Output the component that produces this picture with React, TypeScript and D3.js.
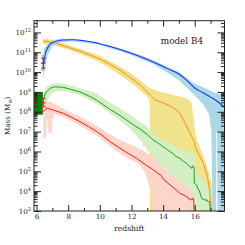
import { useEffect, useRef } from 'react';
import * as d3 from 'd3';

// all masses stored as log10(M / Msun), redshift first
// [z, log M]
const haloLine: [number, number][] = [
  [6.46, 10.45], [6.5, 10.7], [6.55, 10.92], [6.62, 11.1], [6.7, 11.22], [6.85, 11.4],
  [7.0, 11.48], [7.3, 11.57], [7.7, 11.62], [8.3, 11.63], [9.0, 11.58], [9.8, 11.47],
  [10.6, 11.3], [11.7, 11.03], [12.5, 10.8], [13.4, 10.5], [14.2, 10.2], [15.0, 9.9],
  [15.5, 9.58], [16.0, 9.2], [16.5, 8.97], [17.0, 8.74], [17.5, 8.48], [17.9, 8.2],
];
// [z, lo, hi]
const haloBand: [number, number, number][] = [
  [6.42, 9.6, 10.9], [6.5, 10.1, 11.2], [6.7, 10.85, 11.4], [7.0, 11.3, 11.6],
  [7.5, 11.5, 11.68], [8.3, 11.55, 11.68], [9.8, 11.4, 11.52], [11.7, 10.95, 11.1],
  [13.4, 10.4, 10.6], [14.2, 10.0, 10.3], [15.0, 9.6, 10.0], [15.9, 8.9, 9.45],
  [16.5, 8.4, 9.25], [16.9, 7.9, 9.1], [17.05, 7.0, 9.05], [17.12, 2.9, 9.0],
  [17.35, 2.9, 8.95], [17.37, 7.0, 8.95], [17.42, 7.0, 8.93], [17.44, 2.9, 8.92],
  [17.9, 2.9, 8.84],
];

const starLine: [number, number][] = [
  [6.42, 11.57], [7.0, 11.5], [8.0, 11.25], [9.0, 10.98], [10.0, 10.66], [10.65, 10.38],
  [11.28, 10.1], [12.1, 9.62], [12.54, 9.35], [13.0, 9.0], [13.49, 8.6], [13.81, 8.5],
  [14.1, 8.42], [14.44, 8.3], [14.8, 8.1], [15.07, 7.92], [15.28, 7.6], [15.6, 7.08],
  [15.81, 6.74], [15.96, 6.5], [16.0, 6.45], [16.02, 6.24], [16.23, 5.9], [16.55, 5.4],
  [16.8, 4.73], [16.93, 4.06], [17.01, 3.39], [17.07, 2.9],
];
const starBand: [number, number, number][] = [
  [6.4, 11.42, 11.68], [7.0, 11.38, 11.64], [8.0, 11.12, 11.38], [9.0, 10.84, 11.1],
  [10.0, 10.5, 10.82], [11.0, 10.0, 10.4], [12.0, 9.45, 9.92], [12.5, 9.1, 9.62],
  [12.95, 8.78, 9.3], [13.15, 8.55, 9.2], [13.17, 2.9, 9.18], [13.8, 2.9, 9.01],
  [14.65, 2.9, 8.84], [15.5, 2.9, 8.68], [15.8, 2.9, 8.45], [15.95, 2.9, 7.6],
  [16.05, 2.9, 6.9], [16.13, 2.9, 6.58], [16.5, 2.9, 5.85], [16.86, 2.9, 5.07],
  [17.07, 2.9, 4.4], [17.18, 2.9, 2.9],
];

const gasLine: [number, number][] = [
  [6.43, 8.59], [6.52, 8.85], [6.64, 9.01], [6.85, 9.18], [7.17, 9.26], [7.7, 9.23],
  [8.2, 9.12], [8.75, 9.0], [9.3, 8.8], [9.8, 8.59], [10.65, 8.12], [11.2, 7.85],
  [11.7, 7.58], [12.2, 7.3], [12.6, 7.1], [13.0, 6.85], [13.38, 6.58], [13.9, 6.3],
  [14.44, 5.99], [14.7, 5.85], [14.75, 5.78], [15.07, 5.65], [15.3, 5.5], [15.49, 5.4],
  [15.7, 5.22], [15.81, 5.15], [15.86, 5.28], [15.93, 5.22], [15.96, 5.15], [15.97, 4.39],
  [16.13, 4.31], [16.2, 4.1], [16.27, 4.06], [16.44, 3.64], [16.65, 3.55], [16.8, 3.55],
  [16.82, 3.47], [16.95, 3.47], [16.97, 2.9],
];
const gasBand: [number, number, number][] = [
  [6.43, 7.84, 8.9], [6.52, 8.1, 9.15], [6.64, 8.42, 9.28], [6.85, 8.82, 9.38],
  [7.06, 9.0, 9.43], [7.7, 9.05, 9.42], [8.75, 8.84, 9.18], [9.8, 8.4, 8.93],
  [10.65, 7.92, 8.45], [11.7, 7.3, 7.95], [12.1, 7.0, 7.75], [12.5, 6.6, 7.5],
  [12.7, 6.5, 7.4], [12.75, 6.2, 7.37], [12.9, 6.3, 7.3], [13.0, 6.0, 7.22],
  [13.2, 6.0, 7.05], [13.38, 5.8, 6.9], [13.4, 2.9, 6.88], [14.44, 2.9, 6.35],
  [15.07, 2.9, 6.1], [15.81, 2.9, 5.9], [16.0, 2.9, 5.85], [16.02, 2.9, 5.0],
  [16.5, 2.9, 4.55], [16.85, 2.9, 4.2], [17.02, 2.9, 4.0], [17.04, 2.9, 2.9],
];

const bhLine: [number, number][] = [
  [6.43, 8.0], [6.55, 8.12], [6.68, 8.18], [6.9, 8.12], [7.2, 8.05], [7.7, 7.92],
  [8.2, 7.72], [8.75, 7.5], [9.3, 7.25], [9.8, 7.0], [10.2, 6.78], [10.65, 6.49],
  [11.28, 6.16], [11.8, 5.9], [12.33, 5.65], [12.8, 5.38], [13.38, 5.07], [13.7, 4.88],
  [13.85, 4.82], [14.01, 4.6], [14.44, 4.31], [14.8, 4.08], [15.07, 3.89], [15.49, 3.72],
  [15.65, 3.58], [15.7, 3.62], [15.81, 3.55], [15.87, 3.65], [15.93, 3.6], [15.96, 2.9],
];
const bhBand: [number, number, number][] = [
  [6.43, 6.65, 8.3], [6.6, 6.7, 8.45], [6.66, 7.6, 8.5], [6.72, 7.55, 8.52],
  [6.75, 6.95, 8.52], [6.95, 6.85, 8.5], [7.02, 7.6, 8.45], [7.12, 7.9, 8.4],
  [7.7, 7.75, 8.15], [8.75, 7.3, 7.75], [9.8, 6.8, 7.3], [10.65, 6.28, 6.85],
  [11.28, 5.9, 6.58], [11.8, 5.65, 6.4], [12.5, 5.35, 6.15], [12.8, 5.0, 6.0],
  [13.0, 4.6, 5.9], [13.2, 4.0, 5.82], [13.38, 2.9, 5.74], [14.44, 2.9, 4.9],
  [15.1, 2.9, 4.5], [15.81, 2.9, 4.06], [15.96, 2.9, 4.0],
];

// observed values at z ~ 6.4: [z, lo, mid, hi]
const haloObs: [number, number, number, number] = [6.43, 10.2, 10.45, 10.7];
const starObs: [number, number, number, number] = [6.4, 10.1, 10.45, 10.82];
const bhObs: [number, number, number, number] = [6.45, 8.25, 8.45, 8.68];
const gasBoxZ = [5.84, 6.4];
const gasBoxM = [7.85, 9.0];

const xMajor = [6, 8, 10, 12, 14, 16];
const xMinor = [7, 9, 11, 13, 15, 17];
const yDecades = [3, 4, 5, 6, 7, 8, 9, 10, 11, 12];

const App = () => {
  const ref = useRef<SVGSVGElement>(null);

  useEffect(() => {
    const svg = d3.select(ref.current);
    svg.selectAll('*').remove();

    const left = 34, right = 224.5, top = 20.7, bottom = 211;
    const x = d3.scaleLinear().domain([5.84, 17.88]).range([left, right]);
    const y = d3.scaleLog().domain([1e3, 10 ** 12.59]).range([bottom, top]);
    const Y = (v: number) => y(10 ** v);
    const font = '"DejaVu Serif", serif';
    const ink = '#222';

    svg.append('defs').append('clipPath').attr('id', 'plotclip')
      .append('rect').attr('x', left).attr('y', top)
      .attr('width', right - left).attr('height', bottom - top);

    const g = svg.append('g').attr('clip-path', 'url(#plotclip)');

    const band = d3.area<[number, number, number]>()
      .x(d => x(d[0])).y0(d => Y(d[1])).y1(d => Y(d[2]));
    const line = d3.line<[number, number]>().x(d => x(d[0])).y(d => Y(d[1]));

    g.append('path').attr('d', band(starBand)).attr('fill', '#f0e38c');
    g.append('path').attr('d', band(haloBand)).attr('fill', '#acd8e6');
    g.append('path').attr('d', band(gasBand)).attr('fill', '#d2f0c4');
    g.append('path').attr('d', band(bhBand)).attr('fill', '#fdd5c9');

    g.append('rect')
      .attr('x', x(gasBoxZ[0])).attr('y', Y(gasBoxM[1]))
      .attr('width', x(gasBoxZ[1]) - x(gasBoxZ[0]))
      .attr('height', Y(gasBoxM[0]) - Y(gasBoxM[1]))
      .attr('fill', '#0a7c0a');

    g.append('path').attr('d', line(starLine)).attr('fill', 'none')
      .attr('stroke', '#ff8c10').attr('stroke-width', 1);
    g.append('path').attr('d', line.curve(d3.curveMonotoneX)(haloLine)).attr('fill', 'none')
      .attr('stroke', '#1433ff').attr('stroke-width', 1.1);
    line.curve(d3.curveLinear);
    g.append('path').attr('d', line(gasLine)).attr('fill', 'none')
      .attr('stroke', '#239a23').attr('stroke-width', 1);
    g.append('path').attr('d', line(bhLine)).attr('fill', 'none')
      .attr('stroke', '#ff1a1a').attr('stroke-width', 1);

    const errBar = (obs: number[], color: string) => {
      const [z, lo, mid, hi] = obs;
      const e = g.append('g').attr('stroke', color).attr('stroke-width', 1);
      e.append('line').attr('x1', x(z)).attr('x2', x(z)).attr('y1', Y(lo)).attr('y2', Y(hi));
      [lo, mid, hi].forEach(v => {
        e.append('line').attr('x1', x(z) - 2.2).attr('x2', x(z) + 2.2)
          .attr('y1', Y(v)).attr('y2', Y(v));
      });
    };
    errBar(starObs, '#ff9a30');
    errBar(haloObs, '#1433ff');
    errBar(bhObs, '#ff1a1a');

    // frame and ticks (inward, mirrored)
    const axes = svg.append('g').attr('color', ink);
    const tickSet = (axis: d3.Axis<number>, vals: number[], size: number, tr: string, labels: boolean) => {
      const a = axes.append('g').attr('transform', tr)
        .call(axis.tickValues(vals).tickSizeInner(-size).tickSizeOuter(0).tickPadding(3)
          .tickFormat(labels ? (d3.format('d') as any) : () => ''));
      a.select('.domain').remove();
      a.selectAll('text').attr('font-family', font).attr('font-size', 7.2).attr('fill', ink);
      return a;
    };
    tickSet(d3.axisBottom(x) as any, xMajor, 6, `translate(0,${bottom})`, true);
    tickSet(d3.axisBottom(x) as any, xMinor, 3, `translate(0,${bottom})`, false);
    tickSet(d3.axisTop(x) as any, xMajor, 6, `translate(0,${top})`, false);
    tickSet(d3.axisTop(x) as any, xMinor, 3, `translate(0,${top})`, false);

    const yMaj = yDecades.map(e => 10 ** e);
    const yMin: number[] = [];
    yDecades.forEach(e => d3.range(2, 10).forEach(k => {
      if (k * 10 ** e < 10 ** 12.59) yMin.push(k * 10 ** e);
    }));
    tickSet(d3.axisLeft(y) as any, yMaj, 7, `translate(${left},0)`, false);
    tickSet(d3.axisLeft(y) as any, yMin, 3.5, `translate(${left},0)`, false);
    tickSet(d3.axisRight(y) as any, yMaj, 7, `translate(${right},0)`, false);
    tickSet(d3.axisRight(y) as any, yMin, 3.5, `translate(${right},0)`, false);

    axes.append('rect').attr('x', left).attr('y', top)
      .attr('width', right - left).attr('height', bottom - top)
      .attr('fill', 'none').attr('stroke', ink).attr('stroke-width', 1);

    // y tick labels 10^n
    yDecades.forEach(e => {
      const t = svg.append('text').attr('x', left - 3).attr('y', Y(e) + 2.6)
        .attr('text-anchor', 'end').attr('font-family', font).attr('font-size', 7.2).attr('fill', ink);
      t.append('tspan').text('10');
      t.append('tspan').attr('dy', -3).attr('font-size', 5).text(String(e));
    });

    svg.append('text').attr('x', (left + right) / 2).attr('y', 230.5)
      .attr('text-anchor', 'middle').attr('font-family', font).attr('font-size', 7.6)
      .attr('fill', ink).text('redshift');

    const yl = svg.append('text').attr('transform', `translate(10,${(top + bottom) / 2}) rotate(-90)`)
      .attr('text-anchor', 'middle').attr('font-family', font).attr('font-size', 7.2).attr('fill', ink);
    yl.append('tspan').text('Mass (M');
    yl.append('tspan').attr('dy', 1.8).attr('font-size', 5).text('⊙');
    yl.append('tspan').attr('dy', -1.8).text(')');

    svg.append('text').attr('x', 203).attr('y', 43.5).attr('text-anchor', 'end')
      .attr('font-family', font).attr('font-size', 8.8).attr('fill', ink).text('model B4');
  }, []);

  return (
    <svg ref={ref} width={245} height={245}
      style={{ position: 'absolute', left: 0, top: 0, background: '#fff' }} />
  );
};

export default App;
